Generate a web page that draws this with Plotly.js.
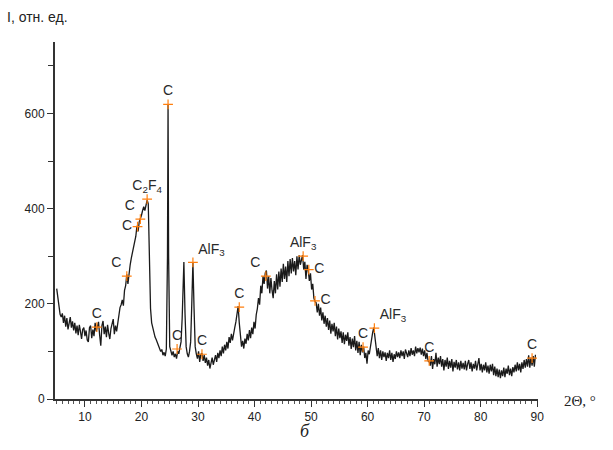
<!DOCTYPE html>
<html><head><meta charset="utf-8">
<script src="https://cdn.plot.ly/plotly-3.0.1.min.js"></script>
<style>html,body{margin:0;padding:0;background:#fff}#chart{width:613px;height:450px}</style>
</head><body><div id="chart"></div>
<script>
// 2Theta (deg) and intensity (rel. units)
const twoTheta = [5.0,5.2,5.4,5.6,5.8,6.0,6.2,6.4,6.6,6.8,7.0,7.2,7.4,7.6,7.8,8.0,8.2,8.4,8.6,8.8,9.0,9.2,9.4,9.6,9.8,10.0,10.2,10.4,10.6,10.8,11.0,11.2,11.4,11.6,11.8,12.0,12.2,12.4,12.6,12.8,13.0,13.2,13.4,13.6,13.8,14.0,14.2,14.4,14.6,14.8,15.0,15.2,15.4,15.6,15.8,16.0,16.2,16.4,16.6,16.8,17.0,17.2,17.4,17.6,17.8,18.0,18.2,18.4,18.6,18.8,19.0,19.2,19.4,19.6,19.8,20.0,20.2,20.4,20.6,20.8,21.0,21.2,21.4,21.6,21.8,22.0,22.2,22.4,22.6,22.8,23.0,23.2,23.4,23.6,23.8,24.0,24.2,24.4,24.6,24.7,24.8,25.0,25.2,25.4,25.6,25.8,26.0,26.2,26.4,26.6,26.8,27.0,27.2,27.5,27.7,27.9,28.1,28.3,28.5,28.7,28.9,29.1,29.3,29.5,29.7,29.9,30.1,30.3,30.5,30.7,30.9,31.1,31.3,31.5,31.7,31.9,32.1,32.3,32.5,32.7,32.9,33.1,33.3,33.5,33.7,33.9,34.1,34.3,34.5,34.7,34.9,35.1,35.3,35.5,35.7,35.9,36.1,36.3,36.5,36.7,36.9,37.1,37.3,37.5,37.7,37.9,38.1,38.3,38.5,38.7,38.9,39.1,39.3,39.5,39.7,39.9,40.1,40.3,40.5,40.7,40.9,41.1,41.3,41.5,41.7,41.9,42.1,42.3,42.5,42.7,42.9,43.1,43.3,43.5,43.7,43.9,44.1,44.3,44.5,44.7,44.9,45.1,45.3,45.5,45.7,45.9,46.1,46.3,46.5,46.7,46.9,47.1,47.3,47.5,47.7,47.9,48.1,48.3,48.5,48.7,48.9,49.1,49.3,49.5,49.7,49.9,50.1,50.3,50.5,50.7,50.9,51.1,51.3,51.5,51.7,51.9,52.1,52.3,52.5,52.7,52.9,53.1,53.3,53.5,53.7,53.9,54.1,54.3,54.5,54.7,54.9,55.1,55.3,55.5,55.7,55.9,56.1,56.3,56.5,56.7,56.9,57.1,57.3,57.5,57.7,57.9,58.1,58.3,58.5,58.7,58.9,59.1,59.3,59.5,59.7,59.9,60.1,60.3,60.5,60.7,60.9,61.1,61.3,61.5,61.7,61.9,62.1,62.3,62.5,62.7,62.9,63.1,63.3,63.5,63.7,63.9,64.1,64.3,64.5,64.7,64.9,65.1,65.3,65.5,65.7,65.9,66.1,66.3,66.5,66.7,66.9,67.1,67.3,67.5,67.7,67.9,68.1,68.3,68.5,68.7,68.9,69.1,69.3,69.5,69.7,69.9,70.1,70.3,70.5,70.7,70.9,71.1,71.3,71.5,71.7,71.9,72.1,72.3,72.5,72.7,72.9,73.1,73.3,73.5,73.7,73.9,74.1,74.3,74.5,74.7,74.9,75.1,75.3,75.5,75.7,75.9,76.1,76.3,76.5,76.7,76.9,77.1,77.3,77.5,77.7,77.9,78.1,78.3,78.5,78.7,78.9,79.1,79.3,79.5,79.7,79.9,80.1,80.3,80.5,80.7,80.9,81.1,81.3,81.5,81.7,81.9,82.1,82.3,82.5,82.7,82.9,83.1,83.3,83.5,83.7,83.9,84.1,84.3,84.5,84.7,84.9,85.1,85.3,85.5,85.7,85.9,86.1,86.3,86.5,86.7,86.9,87.1,87.3,87.5,87.7,87.9,88.1,88.3,88.5,88.7,88.9,89.1,89.3,89.5,89.7];
const intensity = [232,212,198,178,172,180,160,175,152,170,146,165,172,150,163,144,160,138,154,134,156,142,126,146,150,132,144,124,120,150,154,128,146,132,160,142,156,162,134,112,154,164,136,152,130,156,138,126,148,162,168,136,154,142,158,178,192,198,208,196,228,238,262,242,270,282,296,308,320,332,342,364,352,372,378,386,396,404,396,410,418,410,300,190,160,148,138,130,125,118,112,108,100,104,92,98,90,105,300,620,300,110,98,92,100,88,95,85,100,95,108,120,170,288,180,110,95,88,100,120,200,288,190,110,95,85,100,78,94,96,80,92,76,87,70,82,64,80,87,72,84,92,78,97,86,102,90,110,96,114,102,120,106,130,118,137,123,142,150,162,176,195,160,130,110,122,106,127,116,137,123,145,128,150,136,162,148,177,190,212,198,238,222,258,242,265,270,232,258,222,254,228,212,248,222,262,230,268,236,274,246,284,252,278,246,290,258,294,264,296,268,290,260,300,272,302,282,292,302,272,288,252,282,270,248,264,230,242,212,205,202,182,200,175,192,165,182,158,175,152,170,145,165,137,158,142,160,132,152,125,148,128,142,118,140,115,135,122,140,112,130,105,127,109,132,102,122,97,120,92,114,98,110,86,97,74,102,94,112,128,140,150,130,100,90,107,86,102,82,100,88,98,80,97,86,102,82,97,78,94,84,100,88,98,86,102,90,100,84,104,93,88,102,90,107,93,102,90,110,96,107,98,108,93,106,90,102,84,97,80,78,70,90,63,84,73,97,68,87,73,90,68,84,60,82,68,87,63,80,66,84,58,78,66,82,62,77,60,80,64,76,62,80,60,74,82,63,77,58,74,64,80,60,72,86,60,74,56,72,60,77,56,70,53,72,58,74,50,68,48,64,46,62,44,60,48,66,46,64,53,70,50,64,48,67,56,72,58,77,60,74,56,77,63,82,66,84,68,92,66,87,70,90,68,93];

// Phase marks
const markTheta = [12.1,17.4,19.3,19.8,21.0,24.7,26.3,29.1,30.7,37.3,42.0,48.6,49.6,50.7,59.2,61.2,70.9,89.1];
const markInt   = [151,258,362,378,420,619,105,287,94,193,258,300,272,206,109,149,80,86];
const markLabel = ['C','C','C','C','C<sub>2</sub>F<sub>4</sub>','C','C','AlF<sub>3</sub>','C','C','C','AlF<sub>3</sub>','C','C','C','AlF<sub>3</sub>','C','C'];
const markPos = ['top center','top left','middle left','top left','top center','top center','top center','top right','top center','top center','top left','top center','middle right','middle right','top center','top right','top center','top center'];

const xTicks = [10,20,30,40,50,60,70,80,90];
const yTicks = [0,200,400,600];

const traces = [
  {x: twoTheta, y: intensity, type:'scatter', mode:'lines',
   line:{color:'#1a1a1a', width:1.3}, hoverinfo:'skip'},
  {x: markTheta, y: markInt, type:'scatter', mode:'markers+text',
   marker:{symbol:'cross-thin-open', size:7, line:{color:'#e33a22', width:1.2}},
   text: markLabel, textposition: markPos,
   textfont:{family:'Liberation Sans, Arial, sans-serif', size:14, color:'#2a2a2a'}}
];

const layout = {
  width:613, height:450,
  margin:{l:55, r:75, t:42, b:51},
  paper_bgcolor:'#fff', plot_bgcolor:'#fff',
  showlegend:false,
  font:{family:'Liberation Sans, Arial, sans-serif', size:12, color:'#222'},
  xaxis:{range:[4.7,90.15], tickvals:xTicks, ticktext:xTicks.map(String),
    ticks:'outside', ticklen:6, tickwidth:1, tickcolor:'#333',
    minor:{dtick:1, tick0:0, ticks:'outside', ticklen:3, tickcolor:'#555', tickwidth:1},
    showline:true, linecolor:'#333', linewidth:2, showgrid:false, zeroline:false,
    tickfont:{size:12, color:'#222'}},
  yaxis:{range:[0,750], tickvals:yTicks, ticktext:yTicks.map(String),
    ticks:'outside', ticklen:6, tickwidth:1, tickcolor:'#333',
    minor:{dtick:100, tick0:0, ticks:'outside', ticklen:5, tickcolor:'#333', tickwidth:1},
    showline:true, linecolor:'#333', linewidth:2, showgrid:false, zeroline:false,
    tickfont:{size:12, color:'#222'}},
  annotations:[
    {text:'I, отн. ед.', xref:'paper', yref:'paper', x:-0.103, y:1.07, xanchor:'left', yanchor:'middle',
     showarrow:false, font:{family:'Liberation Sans, Arial, sans-serif', size:14, color:'#222'}},
    {text:'2Θ, °', xref:'paper', yref:'paper', x:1.05, y:0, xanchor:'left', yanchor:'middle', yshift:-2,
     showarrow:false, font:{family:'Liberation Serif, Times New Roman, serif', size:15, color:'#222'}},
    {text:'<i>б</i>', xref:'paper', yref:'paper', x:0.518, y:-0.09, xanchor:'center', yanchor:'middle',
     showarrow:false, font:{family:'Liberation Serif, Times New Roman, serif', size:18, color:'#222'}}
  ]
};
Plotly.newPlot('chart', traces, layout, {staticPlot:true, displayModeBar:false});
</script></body></html>
